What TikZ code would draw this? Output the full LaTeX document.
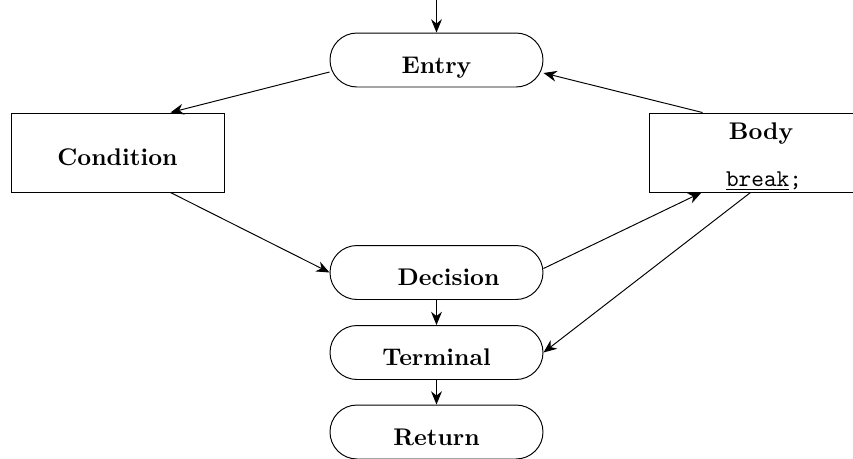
\documentclass[tikz,border=0pt]{standalone}
\usetikzlibrary{shapes.misc,calc,arrows.meta}
\begin{document}
\begin{tikzpicture}[x=0.415pt,y=-0.415pt,
  term/.style={draw,rounded rectangle,minimum width=88.4pt,minimum height=22.4pt,inner sep=0pt,font=\bfseries,text height=11pt,text depth=0pt},
  box/.style={draw,rectangle,minimum width=88.4pt,minimum height=32.8pt,inner sep=0pt,font=\bfseries,text height=11pt,text depth=0pt},
  arr/.style={-{Stealth[length=5.5pt,width=4.5pt]}},
  lbl/.style={inner sep=0pt}]
\useasboundingbox (0,0) rectangle (853,458);
\node[term] (entry) at (436.5,60) {Entry};
\node[box] (cond) at (117.5,152.5) {Condition};
\node[box] (body) at (755.5,152.5) {};
\node[lbl,font=\bfseries,anchor=base] (bodyt) at (761,139) {Body};
\node[lbl,anchor=base] (bodyb) at (764,186) {\underline{\texttt{break}}\texttt{;}};
\node[term] (dec) at (436.5,272.5) {\hspace{10pt}Decision};
\node[term] (termn) at (436.5,352.5) {Terminal};
\node[term] (ret) at (436.5,432) {Return};
\coordinate (top) at (436.5,0);
\draw[arr] (top) -- (entry.north);
\draw[arr] ($(entry.west)+(0,12)$) -- ($(cond.north west)+(160,0)$);
\draw[arr] ($(cond.south west)+(160,0)$) -- (dec.west);
\draw[arr] ($(dec.east)+(0,-4)$) -- ($(body.south west)+(53,0)$);
\draw[arr] ($(body.south west)+(102,0)$) -- (termn.east);
\draw[arr] ($(body.north west)+(54,0)$) -- ($(entry.east)+(0,13)$);
\draw[arr] (dec.south) -- (termn.north);
\draw[arr] (termn.south) -- (ret.north);
\end{tikzpicture}
\end{document}
